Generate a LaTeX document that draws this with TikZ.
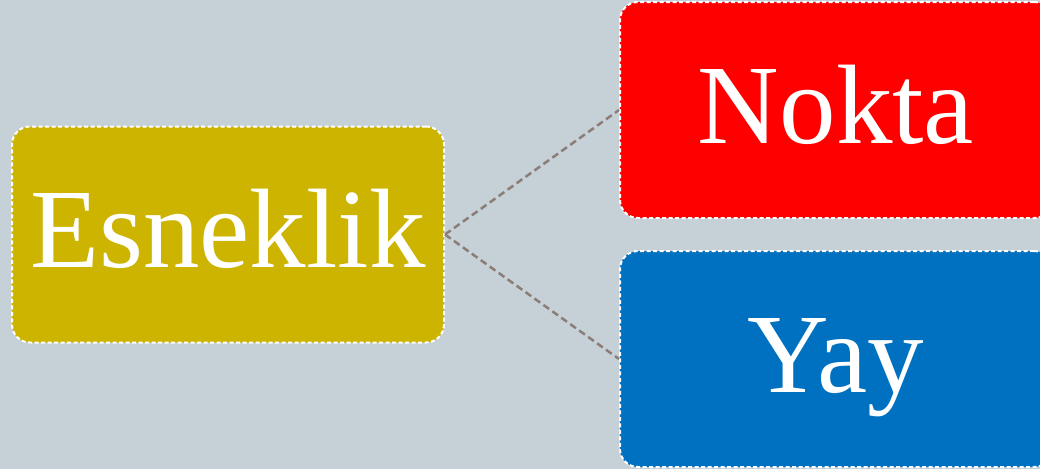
\documentclass[tikz,border=0pt]{standalone}
\usepackage{fontspec}
\setmainfont{Liberation Serif}
\definecolor{bgc}{HTML}{C5D0D7}
\definecolor{olivec}{HTML}{CCB400}
\definecolor{redc}{HTML}{FF0000}
\definecolor{bluec}{HTML}{0070C0}
\definecolor{linec}{HTML}{8C7E76}
\tikzset{
  box/.style={draw=white, line width=2pt, dash pattern=on 4pt off 2.5pt,
    rounded corners=18pt, minimum width=432pt, minimum height=216pt,
    text=white, font=\fontsize{113}{113}\selectfont, inner sep=0pt,
    text height=75pt, text depth=9pt, align=center},
  conn/.style={draw=linec, line width=2.5pt, dash pattern=on 7pt off 4pt}
}
\begin{document}
\begin{tikzpicture}[x=1pt,y=-1pt]
\fill[bgc] (0,0) rectangle (1040,469);
\useasboundingbox (0,0) rectangle (1040,469);
\clip (0,0) rectangle (1040,469);
\node[box, fill=olivec] (esn) at (228,234.5) {Esneklik};
\node[box, fill=redc] (nok) at (836,110) {Nokta};
\node[box, fill=bluec] (yay) at (836,359) {Yay};
\draw[conn] (esn.east) -- (nok.west);
\draw[conn] (esn.east) -- (yay.west);
\end{tikzpicture}
\end{document}
